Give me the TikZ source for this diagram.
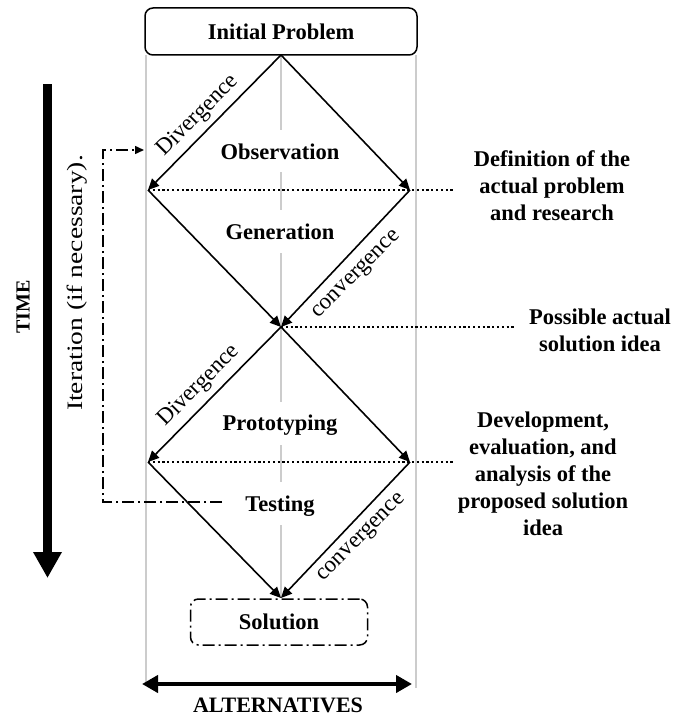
\documentclass[tikz,border=0pt]{standalone}
\usepackage{fontspec}
\setmainfont{Liberation Serif}
\usetikzlibrary{arrows.meta}

\begin{document}
\begin{tikzpicture}[x=1pt,y=-1pt,
  flow/.style={line width=1.6pt, -{Triangle[length=11pt,width=10pt]}},
  guide/.style={line width=1.8pt, draw=black!20},
  dotline/.style={line width=1.8pt, dash pattern=on 2.2pt off 2.6pt},
  phase/.style={font=\bfseries\fontsize{22.5}{27}\selectfont},
  note/.style={font=\bfseries\fontsize{22.5}{27}\selectfont, align=center},
  slant/.style={font=\fontsize{23}{27}\selectfont, rotate=45},
  dashdot/.style={line width=1.5pt, dash pattern=on 12pt off 4pt on 2pt off 4pt},
  bigarrow/.style={line width=9pt, -{Triangle[length=26pt,width=27pt]}},
  widearrow/.style={line width=4pt, {Triangle[length=16pt,width=17pt]}-{Triangle[length=16pt,width=17pt]}}
]
\useasboundingbox (0,0) rectangle (673,717);

% start and end boxes
\node[draw, rounded corners=8pt, line width=1.5pt, minimum width=272pt,
      minimum height=47pt, phase] (init) at (281,31.5) {Initial Problem};
\node[draw, rounded corners=8pt, dashdot, minimum width=177pt,
      minimum height=46pt, phase] (sol) at (279,622) {Solution};

% diamond corners
\coordinate (top) at (281,55);
\coordinate (L1) at (148,190);
\coordinate (R1) at (410,190);
\coordinate (C) at (281,327);
\coordinate (L2) at (148,462);
\coordinate (R2) at (410,462);
\coordinate (B) at (281,598);

% grey guide lines
\coordinate (gl0) at (146,55);  \coordinate (gl1) at (146,686);
\coordinate (gr0) at (416,55);  \coordinate (gr1) at (416,688);
\draw[guide] (gl0) -- (gl1);
\draw[guide] (gr0) -- (gr1);
\foreach \a/\b in {55/130,172/210,253/402,445/482,525/598}{
  \draw[guide] (281,\a) -- (281,\b);
}

% phase labels
\node[phase] (obs) at (280,152) {Observation};
\node[phase] (gen) at (280,232) {Generation};
\node[phase] (pro) at (280,425) {Prototyping};
\node[phase] (tst) at (280,506) {Testing};

% diverge / converge arrows
\draw[flow] (top) -- (L1);
\draw[flow] (top) -- (R1);
\draw[flow] (L1) -- (C);
\draw[flow] (R1) -- (C);
\draw[flow] (C) -- (L2);
\draw[flow] (C) -- (R2);
\draw[flow] (L2) -- (B);
\draw[flow] (R2) -- (B);

\node[slant] (dv1) at (198,116) {Divergence};
\node[slant] (dv2) at (199,386) {Divergence};
\node[slant] (cv1) at (357,275) {convergence};
\node[slant] (cv2) at (362,538) {convergence};

% dotted leaders to the notes
\coordinate (d1) at (455,190);
\coordinate (d2) at (515,327);
\coordinate (d3) at (455,462);
\draw[dotline] (L1) -- (d1);
\draw[dotline] (C) -- (d2);
\draw[dotline] (L2) -- (d3);

\node[note] (n1) at (552,186) {Definition of the\\actual problem\\and research};
\node[note] (n2) at (600,330) {Possible actual\\solution idea};
\node[note] (n3) at (543,474) {Development,\\evaluation, and\\analysis of the\\proposed solution\\idea};

% iteration loop
\coordinate (it0) at (222,502);
\coordinate (it1) at (103,502);
\coordinate (it2) at (103,150);
\coordinate (it3) at (144,150);
\draw[dashdot, -{Triangle[length=9pt,width=8pt]}] (it0) -- (it1) -- (it2) -- (it3);
\node[rotate=90, font=\fontsize{22}{26}\selectfont] (iter) at (77,283)
  {\scalebox{1.25}[1]{Iteration (if necessary).}};

% time axis
\coordinate (t0) at (47.5,84);
\coordinate (t1) at (47.5,578);
\draw[bigarrow] (t0) -- (t1);
\node[rotate=90, font=\bfseries\fontsize{20}{24}\selectfont] (time) at (23,307) {TIME};

% alternatives axis
\coordinate (a0) at (142,684);
\coordinate (a1) at (412,684);
\draw[widearrow] (a0) -- (a1);
\node[font=\bfseries\fontsize{22}{26}\selectfont] (alt) at (278,705) {ALTERNATIVES};
\end{tikzpicture}
\end{document}
